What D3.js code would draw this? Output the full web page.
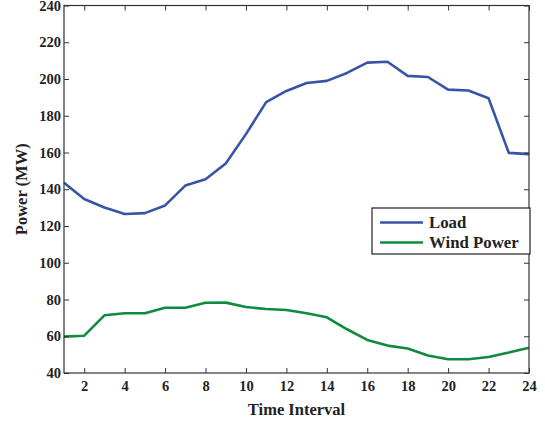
<!DOCTYPE html>
<html lang="en">
<head>
<meta charset="utf-8">
<title>Load and Wind Power</title>
<script src="https://cdn.jsdelivr.net/npm/d3@7"></script>
<style>
    body { margin: 0; background: #fff; }
    svg { display: block; }
    text { font-family: 'Liberation Serif', 'DejaVu Serif', serif; font-weight: bold; fill: #222; }
</style>
</head>
<body>
<svg id="chart"></svg>
<script>
    // data
    const intervals = d3.range(1, 25);
    const load = [143.5, 134.7, 130.1, 126.5, 127, 131.2, 142, 145.4, 154, 170,
                  187.4, 193.5, 197.8, 199, 203.3, 208.9, 209.4, 201.7, 201.1, 194.2,
                  193.7, 189.5, 159.8, 159.1];
    const wind = [59.8, 60.3, 71.4, 72.5, 72.5, 75.5, 75.5, 78.2, 78.3, 75.9,
                  74.8, 74.3, 72.5, 70.3, 63.8, 58, 54.9, 53.3, 49.5, 47.5,
                  47.5, 48.7, 51.1, 53.8];
    const xTicks = d3.range(2, 25, 2);
    const yTicks = d3.range(40, 241, 20);
    const series = [
        { name: 'Load', values: load, color: '#3953a6' },
        { name: 'Wind Power', values: wind, color: '#0f8a3e' }
    ];

    const WIDTH = 545, HEIGHT = 423;
    const M_LEFT = 64, M_RIGHT = 529, M_TOP = 5.5, M_BOTTOM = 373;

    const svg = d3.select('#chart')
        .attr('width', WIDTH)
        .attr('height', HEIGHT);

    const x = d3.scaleLinear().domain([1, 24]).range([M_LEFT, M_RIGHT]);
    const y = d3.scaleLinear().domain([40, 240]).range([M_BOTTOM, M_TOP]);

    // lines
    const line = d3.line()
        .x((d, i) => x(intervals[i]))
        .y(d => y(d));

    svg.selectAll('path.series')
        .data(series)
        .join('path')
        .attr('class', 'series')
        .attr('d', d => line(d.values))
        .attr('fill', 'none')
        .attr('stroke', d => d.color)
        .attr('stroke-width', 2.6)
        .attr('stroke-linejoin', 'round');

    // axes (MATLAB style, ticks inside, box on)
    const TICK = 5;
    const axisColor = '#333';

    svg.append('g')
        .attr('transform', `translate(0,${M_BOTTOM})`)
        .call(d3.axisBottom(x).tickValues(xTicks).tickSize(-TICK).tickPadding(8))
        .call(g => g.select('.domain').remove());
    svg.append('g')
        .attr('transform', `translate(0,${M_TOP})`)
        .call(d3.axisTop(x).tickValues(xTicks).tickSize(-TICK).tickFormat(''))
        .call(g => g.select('.domain').remove());
    svg.append('g')
        .attr('transform', `translate(${M_LEFT},0)`)
        .call(d3.axisLeft(y).tickValues(yTicks).tickSize(-TICK).tickPadding(3))
        .call(g => g.select('.domain').remove());
    svg.append('g')
        .attr('transform', `translate(${M_RIGHT},0)`)
        .call(d3.axisRight(y).tickValues(yTicks).tickSize(-TICK).tickFormat(''))
        .call(g => g.select('.domain').remove());

    svg.selectAll('.tick line').attr('stroke', axisColor);
    svg.selectAll('.tick text')
        .attr('font-size', 14.5)
        .attr('font-family', "'Liberation Serif', serif")
        .attr('font-weight', 'bold')
        .attr('fill', '#222');

    svg.append('rect')
        .attr('x', M_LEFT).attr('y', M_TOP)
        .attr('width', M_RIGHT - M_LEFT).attr('height', M_BOTTOM - M_TOP)
        .attr('fill', 'none')
        .attr('stroke', axisColor)
        .attr('stroke-width', 1.2);

    // axis labels
    svg.append('text')
        .attr('x', (M_LEFT + M_RIGHT) / 2)
        .attr('y', 415)
        .attr('text-anchor', 'middle')
        .attr('font-size', 16.5)
        .text('Time Interval');

    svg.append('text')
        .attr('transform', `translate(27,${(M_TOP + M_BOTTOM) / 2}) rotate(-90)`)
        .attr('text-anchor', 'middle')
        .attr('font-size', 16.5)
        .text('Power (MW)');

    // legend
    const legend = svg.append('g').attr('transform', 'translate(372,208)');
    legend.append('rect')
        .attr('width', 158).attr('height', 46)
        .attr('fill', '#fff')
        .attr('stroke', '#222')
        .attr('stroke-width', 1.2);
    const items = legend.selectAll('g.item')
        .data(series)
        .join('g')
        .attr('class', 'item')
        .attr('transform', (d, i) => `translate(0,${14.5 + i * 20})`);
    items.append('line')
        .attr('x1', 8).attr('x2', 51)
        .attr('stroke', d => d.color)
        .attr('stroke-width', 2.6);
    items.append('text')
        .attr('x', 57)
        .attr('dy', '0.33em')
        .attr('font-size', 16.8)
        .text(d => d.name);
</script>
</body>
</html>
